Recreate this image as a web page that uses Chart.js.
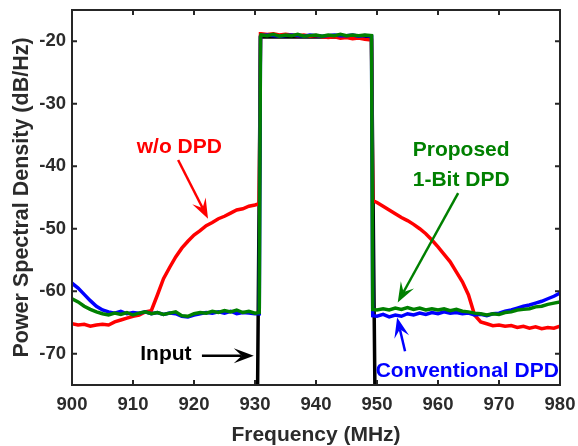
<!DOCTYPE html>
<html>
<head>
<meta charset="utf-8">
<script src="https://cdn.jsdelivr.net/npm/chart.js@4.4.0/dist/chart.umd.min.js"></script>
<style>
  body { margin: 0; background: #fff; }
</style>
</head>
<body>
<canvas id="myChart" width="578" height="446"></canvas>
<script>
'use strict';

// frequency points (MHz), shared by the three measured spectra
let freqMHz = [
  900, 901, 902, 903, 904, 905, 906, 907, 908, 909,
  910, 911, 912, 913, 914, 915, 916, 917, 918, 919,
  920, 921, 922, 923, 924, 925, 926, 927, 928, 929,
  930, 930.7, 930.9,
  931, 932, 933, 934, 935, 936, 937, 938, 939, 940,
  941, 942, 943, 944, 945, 946, 947, 948,
  949.1, 949.3,
  950, 951, 952, 953, 954, 955, 956, 957, 958, 959,
  960, 961, 962, 963, 964, 965, 966, 967, 968, 969,
  970, 971, 972, 973, 974, 975, 976, 977, 978, 979, 980
];

let proposedPsd = [
  -61.2, -61.7, -62.4, -62.9, -63.3, -63.6, -63.8, -63.5, -63.7, -63.4,
  -63.8, -63.5, -63.3, -63.6, -63.4, -63.7, -63.5, -63.3, -63.9, -64.0,
  -63.6, -63.4, -63.5, -63.2, -63.4, -63.1, -63.3, -63.0, -63.4, -63.2,
  -63.5, -63.4, -19.3,
  -19.0, -19.1, -18.9, -19.2, -19.0, -19.1, -18.9, -19.2, -19.1, -19.0,
  -19.2, -19.0, -19.1, -18.9, -19.1, -19.0, -19.1, -19.0,
  -19.1, -62.9,
  -63.0, -62.8, -63.0, -62.7, -62.9, -62.6, -62.9, -62.7, -63.0, -62.8,
  -63.0, -62.8, -63.1, -62.9, -63.2, -63.3, -63.5, -63.6, -63.8, -63.6,
  -63.7, -63.4, -63.3, -63.0, -62.9, -62.8, -62.5, -62.4, -62.1, -61.9, -61.7
];

let conventionalPsd = [
  -58.7, -59.5, -60.5, -61.5, -62.4, -63.0, -63.3, -63.5, -63.2, -63.6,
  -63.4, -63.5, -63.3, -63.6, -63.4, -63.7, -63.5, -63.6, -64.0, -64.1,
  -63.8, -63.6, -63.4, -63.5, -63.3, -63.5, -63.2, -63.6, -63.4, -63.5,
  -63.6, -63.6, -19.3,
  -19.1, -19.0, -19.1, -19.2, -19.1, -19.0, -19.1, -19.2, -19.0, -19.1,
  -19.2, -19.1, -19.0, -19.1, -19.1, -19.0, -19.2, -19.1,
  -19.2, -63.9,
  -64.0, -63.7, -64.1, -63.8, -64.0, -63.6, -63.8, -63.5, -63.7, -63.4,
  -63.6, -63.3, -63.5, -63.4, -63.6, -63.5, -63.8, -63.7, -63.9, -63.6,
  -63.5, -63.2, -63.0, -62.7, -62.4, -62.2, -61.9, -61.6, -61.2, -60.8, -60.3
];

let noDpdPsd = [
  -65.2, -65.4, -65.3, -65.6, -65.4, -65.3, -65.4, -64.9, -64.6, -64.3,
  -64.0, -63.8, -63.3, -63.1, -60.6, -58.0, -56.2, -54.5, -53.1, -52.0,
  -51.0, -50.3, -49.5, -49.0, -48.4, -48.0, -47.5, -47.0, -46.8, -46.4,
  -46.2, -46.0, -18.8,
  -18.8, -18.9, -18.8, -19.0, -18.9, -19.0, -19.1, -19.0, -19.2, -19.1,
  -19.3, -19.4, -19.3, -19.5, -19.4, -19.6, -19.5, -19.7,
  -19.8, -45.5,
  -45.8, -46.4, -47.0, -47.6, -48.2, -48.7, -49.3, -50.0, -50.8, -51.8,
  -52.9, -54.1, -55.3, -56.9, -58.5, -60.6, -63.8, -64.9, -65.2, -65.5,
  -65.4, -65.6, -65.5, -65.8, -65.6, -65.9, -65.7, -66.0, -65.8, -65.9, -65.6
];

// input signal: ideal band, skirts fall below the axis
let inputFreq = [930.3, 930.9, 949.1, 949.8];
let inputPsd = [-90, -19.3, -19.3, -90];

let xTicks = [900, 910, 920, 930, 940, 950, 960, 970, 980];
let yTicks = [-70, -60, -50, -40, -30, -20];

function toPoints(xs, ys) {
  return xs.map((x, i) => ({ x: x, y: ys[i] }));
}

let textColor = '#2b2b2b';
let fontFamily = "'Liberation Sans', Arial, sans-serif";
Chart.defaults.font.family = fontFamily;

// text labels with arrows, placed in data units
let notes = [
  { lines: ['w/o DPD'], x: 917.6, y: -37.0, color: '#ff0000', from: [917.4, -39.0], to: [922.3, -48.4] },
  { lines: ['Proposed', '1-Bit DPD'], x: 963.8, y: -37.4, color: '#008000', from: [963.3, -44.3], to: [953.4, -61.8] },
  { lines: ['Input'], x: 915.4, y: -70.0, color: '#000000', from: [921.3, -70.3], to: [929.8, -70.3] },
  { lines: ['Conventional DPD'], x: 964.8, y: -72.8, color: '#0000ff', from: [954.6, -69.6], to: [953.3, -64.2] }
];

function drawArrow(ctx, x1, y1, x2, y2, color) {
  let ang = Math.atan2(y2 - y1, x2 - x1);
  let len = 20;
  let half = 7.5;
  ctx.strokeStyle = color;
  ctx.fillStyle = color;
  ctx.lineWidth = 2.5;
  ctx.beginPath();
  ctx.moveTo(x1, y1);
  ctx.lineTo(x2 - Math.cos(ang) * len * 0.6, y2 - Math.sin(ang) * len * 0.6);
  ctx.stroke();
  ctx.save();
  ctx.translate(x2, y2);
  ctx.rotate(ang);
  ctx.beginPath();
  ctx.moveTo(0, 0);
  ctx.lineTo(-len, -half);
  ctx.lineTo(-len + 8, 0);
  ctx.lineTo(-len, half);
  ctx.closePath();
  ctx.fill();
  ctx.restore();
}

let framePlugin = {
  id: 'frame',
  afterDatasetsDraw(chart) {
    let ctx = chart.ctx;
    let a = chart.chartArea;
    let x = chart.scales.x;
    let y = chart.scales.y;
    ctx.save();
    ctx.strokeStyle = '#262626';
    ctx.lineWidth = 2;
    ctx.strokeRect(a.left, a.top, a.right - a.left, a.bottom - a.top);
    ctx.beginPath();
    xTicks.forEach(v => {
      let px = x.getPixelForValue(v);
      ctx.moveTo(px, a.bottom);
      ctx.lineTo(px, a.bottom - 5);
      ctx.moveTo(px, a.top);
      ctx.lineTo(px, a.top + 5);
    });
    yTicks.forEach(v => {
      let py = y.getPixelForValue(v);
      ctx.moveTo(a.left, py);
      ctx.lineTo(a.left + 5, py);
      ctx.moveTo(a.right, py);
      ctx.lineTo(a.right - 5, py);
    });
    ctx.stroke();

    // annotations
    ctx.font = 'bold 21px ' + fontFamily;
    ctx.textAlign = 'center';
    ctx.textBaseline = 'middle';
    notes.forEach(n => {
      let cx = x.getPixelForValue(n.x);
      let cy = y.getPixelForValue(n.y);
      ctx.fillStyle = n.color;
      n.lines.forEach((t, i) => {
        ctx.fillText(t, cx, cy + i * 30);
      });
      drawArrow(ctx,
        x.getPixelForValue(n.from[0]), y.getPixelForValue(n.from[1]),
        x.getPixelForValue(n.to[0]), y.getPixelForValue(n.to[1]), n.color);
    });
    ctx.restore();
  }
};

let ctx = document.getElementById('myChart').getContext('2d');
let chart = new Chart(ctx, {
  type: 'line',
  data: {
    datasets: [{
      label: 'Proposed 1-Bit DPD',
      data: toPoints(freqMHz, proposedPsd),
      borderColor: '#008000',
    }, {
      label: 'Conventional DPD',
      data: toPoints(freqMHz, conventionalPsd),
      borderColor: '#0000ff',
    }, {
      label: 'w/o DPD',
      data: toPoints(freqMHz, noDpdPsd),
      borderColor: '#ff0000',
    }, {
      label: 'Input',
      data: toPoints(inputFreq, inputPsd),
      borderColor: '#000000',
    }]
  },
  options: {
    responsive: false,
    animation: false,
    layout: { padding: { top: 10, right: 18, left: 0, bottom: 0 } },
    elements: {
      line: { borderWidth: 3.5, tension: 0 },
      point: { radius: 0 }
    },
    plugins: {
      legend: { display: false },
      tooltip: { enabled: false }
    },
    scales: {
      x: {
        type: 'linear',
        min: 900,
        max: 980,
        grid: { display: false, drawTicks: false },
        border: { display: false },
        afterBuildTicks: s => { s.ticks = xTicks.map(v => ({ value: v })); },
        afterFit: s => { s.height = 61; s.paddingLeft = 0; s.paddingRight = 0; },
        ticks: { padding: 9, color: textColor, font: { size: 18.5, weight: 'bold' } },
        title: {
          display: true,
          text: 'Frequency (MHz)',
          color: textColor,
          padding: 0,
          font: { size: 21, weight: 'bold', lineHeight: 1 }
        }
      },
      y: {
        type: 'linear',
        min: -75,
        max: -15,
        grid: { display: false, drawTicks: false },
        border: { display: false },
        afterBuildTicks: s => { s.ticks = yTicks.map(v => ({ value: v })); },
        afterFit: s => { s.width = 72; s.paddingTop = 0; s.paddingBottom = 0; },
        ticks: { padding: 6, color: textColor, font: { size: 18.5, weight: 'bold' } },
        title: {
          display: true,
          text: 'Power Spectral Density (dB/Hz)',
          color: textColor,
          padding: { top: 9, bottom: 0 },
          font: { size: 21.5, weight: 'bold' }
        }
      }
    }
  },
  plugins: [framePlugin]
});
</script>
</body>
</html>
